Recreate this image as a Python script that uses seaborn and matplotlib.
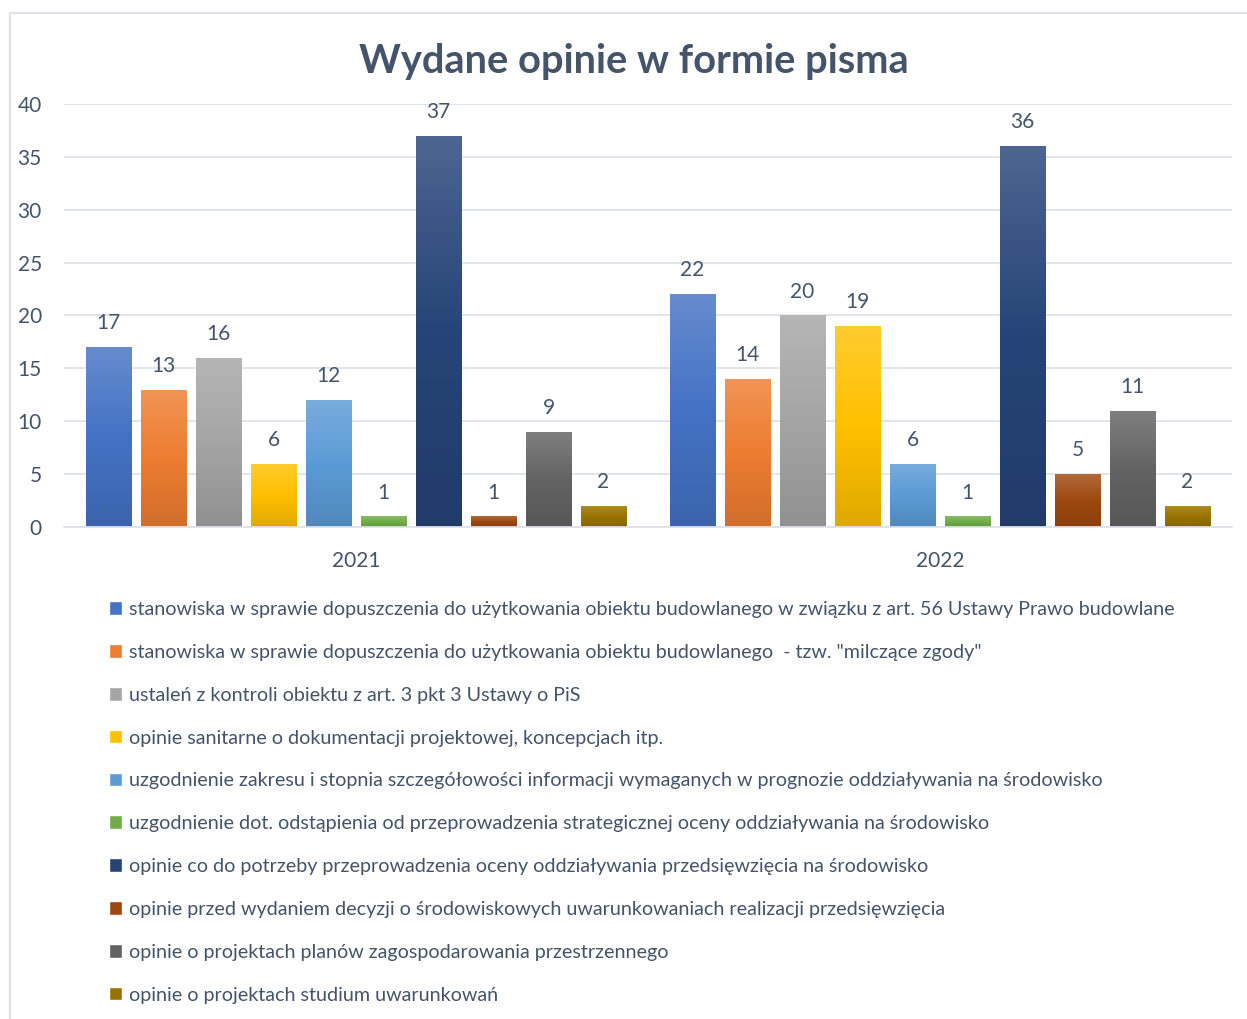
import numpy as np
import pandas as pd
import matplotlib
matplotlib.use("Agg")
import matplotlib.pyplot as plt
import seaborn as sns
from matplotlib.colors import LinearSegmentedColormap, to_rgb
from matplotlib.lines import Line2D

# dane
lata = ["2021", "2022"]
kategorie = [
    "stanowiska w sprawie dopuszczenia do użytkowania obiektu budowlanego w związku z art. 56 Ustawy Prawo budowlane",
    "stanowiska w sprawie dopuszczenia do użytkowania obiektu budowlanego  - tzw. \"milczące zgody\"",
    "ustaleń z kontroli obiektu z art. 3 pkt 3 Ustawy o PiS",
    "opinie sanitarne o dokumentacji projektowej, koncepcjach itp.",
    "uzgodnienie zakresu i stopnia szczegółowości informacji wymaganych w prognozie oddziaływania na środowisko",
    "uzgodnienie dot. odstąpienia od przeprowadzenia strategicznej oceny oddziaływania na środowisko",
    "opinie co do potrzeby przeprowadzenia oceny oddziaływania przedsięwzięcia na środowisko",
    "opinie przed wydaniem decyzji o środowiskowych uwarunkowaniach realizacji przedsięwzięcia",
    "opinie o projektach planów zagospodarowania przestrzennego",
    "opinie o projektach studium uwarunkowań",
]
wartosci_2021 = [17, 13, 16, 6, 12, 1, 37, 1, 9, 2]
wartosci_2022 = [22, 14, 20, 19, 6, 1, 36, 5, 11, 2]
kolory = ["#4472C4", "#ED7D31", "#A5A5A5", "#FFC000", "#5B9BD5",
          "#70AD47", "#264478", "#9E480E", "#636363", "#997300"]

df = pd.DataFrame({
    "rok": [lata[0]] * len(kategorie) + [lata[1]] * len(kategorie),
    "kategoria": kategorie * 2,
    "liczba": wartosci_2021 + wartosci_2022,
})

sns.set_theme(style="white")
plt.rcParams["font.family"] = ["Lato", "DejaVu Sans"]
TXT = "#44546A"

W, H = 1247, 1019
fig = plt.figure(figsize=(W / 100, H / 100), dpi=100)
ax = fig.add_axes([64 / W, 1 - 527 / H, (1232 - 64) / W, (527 - 104) / H])

sns.barplot(data=df, x="rok", y="liczba", hue="kategoria", hue_order=kategorie,
            palette=kolory, width=0.942, gap=0.18, errorbar=None,
            saturation=1, ax=ax)

handles, labels = ax.get_legend_handles_labels()
ax.get_legend().remove()

ax.set_ylim(0, 40)
ax.set_yticks(range(0, 41, 5))
ax.grid(axis="y", color="#DDE2EA", linewidth=1.3)
ax.set_axisbelow(True)
for s in ["top", "right", "left"]:
    ax.spines[s].set_visible(False)
ax.spines["bottom"].set_color("#DDE2EA")
ax.spines["bottom"].set_linewidth(1.3)
ax.set_xlabel("")
ax.set_ylabel("")
ax.tick_params(axis="y", length=0, pad=16, labelsize=15, labelcolor=TXT)
ax.tick_params(axis="x", length=0, pad=17, labelsize=15, labelcolor=TXT)

# gradient w słupkach, jak w Excelu
def jasniej(c, f):
    r = np.array(to_rgb(c))
    return tuple(r + (1 - r) * f)

def ciemniej(c, f):
    return tuple(np.array(to_rgb(c)) * f)

for cont, kol in zip(ax.containers, kolory):
    cmap = LinearSegmentedColormap.from_list("g", [ciemniej(kol, 0.88), kol, jasniej(kol, 0.18)])
    for p in cont.patches:
        x0, y0, w, h = p.get_x(), p.get_y(), p.get_width(), p.get_height()
        grad = np.linspace(0, 1, 100).reshape(-1, 1)
        im = ax.imshow(grad, extent=[x0, x0 + w, y0, y0 + h], origin="lower",
                       aspect="auto", cmap=cmap, zorder=p.get_zorder() + 0.1)
        im.set_clip_path(p)
    ax.bar_label(cont, padding=10, fontsize=15, color=TXT)

ax.set_xlim(-0.5, 1.5)
ax.set_ylim(0, 40)

fig.text(634 / W, 1 - 61 / H, "Wydane opinie w formie pisma", ha="center", va="center",
         fontsize=28.7, fontweight="bold", color=TXT)

fig.legend(handles, labels, loc="upper left", bbox_to_anchor=(109 / W, 1 - 601 / H),
           frameon=False, fontsize=14.2, labelcolor=TXT, handlelength=0.68,
           handleheight=0.68, handletextpad=0.32, labelspacing=1.31,
           borderpad=0, borderaxespad=0)

# ramka wykresu
fig.add_artist(Line2D([10 / W, 10 / W], [0, 1 - 13 / H], color="#DDE2EA", lw=1.5,
                      transform=fig.transFigure))
fig.add_artist(Line2D([10 / W, 1], [1 - 13 / H, 1 - 13 / H], color="#DDE2EA", lw=1.5,
                      transform=fig.transFigure))

fig.savefig("out.png", dpi=100, facecolor="white")
